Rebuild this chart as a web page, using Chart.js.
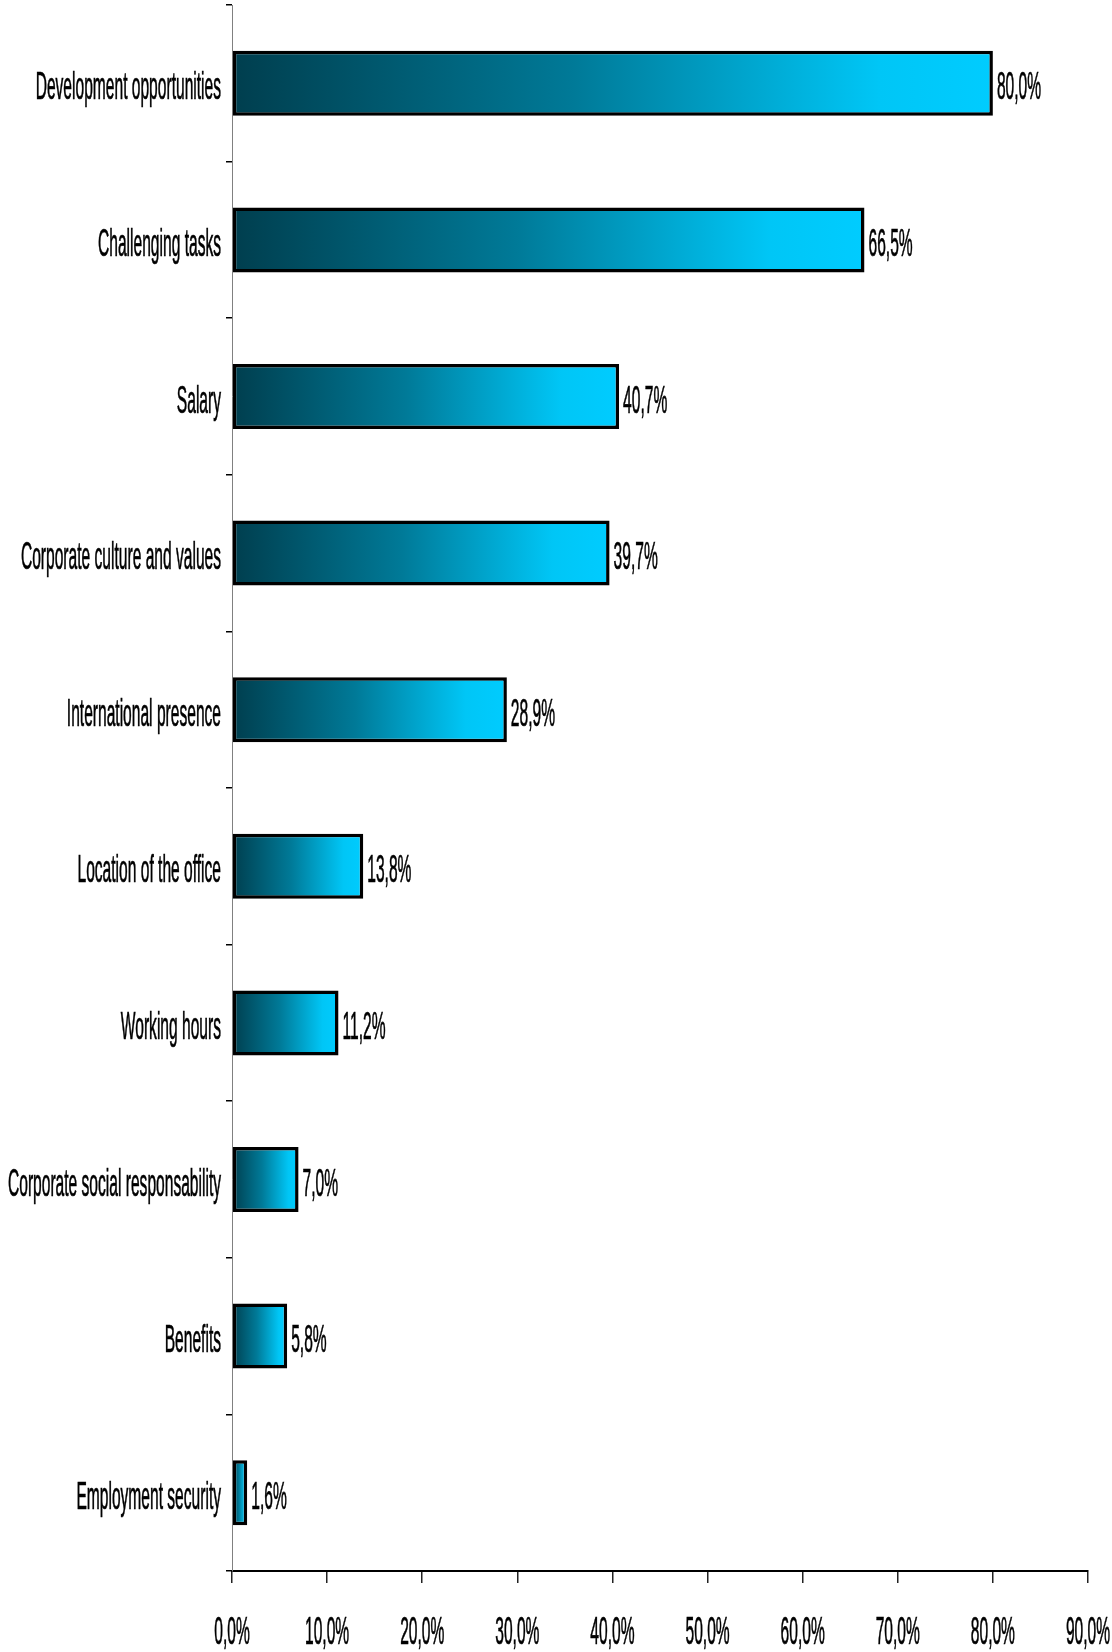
<!DOCTYPE html>
<html>
<head>
<meta charset="utf-8">
<script src="https://cdn.jsdelivr.net/npm/chart.js@4/dist/chart.umd.min.js"></script>
<style>
  html, body { margin: 0; padding: 0; background: #fff; }
  #wrap { width: 1112px; height: 1652px; }
</style>
</head>
<body>
<div id="wrap"><canvas id="myChart" width="1112" height="1652"></canvas></div>
<script>
// data
var categories = [
    'Development opportunities',
    'Challenging tasks',
    'Salary',
    'Corporate culture and values',
    'International presence',
    'Location of the office',
    'Working hours',
    'Corporate social responsability',
    'Benefits',
    'Employment security'
];
var values = [80.0, 66.5, 40.7, 39.7, 28.9, 13.8, 11.2, 7.0, 5.8, 1.6];
var xMin = 0, xMax = 90, xStep = 10;

var FONT = '38px "Liberation Sans", Arial, sans-serif';
var SQUEEZE = 0.41;

function pct(v) {
    return v.toFixed(1).replace('.', ',') + '%';
}

// text in the picture is very condensed, so draw it squeezed horizontally
function squeezedText(ctx, text, x, y, align) {
    ctx.save();
    ctx.translate(x, y);
    ctx.scale(SQUEEZE, 1);
    ctx.textAlign = align;
    ctx.fillText(text, 0, 0);
    ctx.strokeText(text, 0, 0);
    ctx.restore();
}

var labelPlugin = {
    id: 'squeezedLabels',
    afterDraw: function (chart) {
        var ctx = chart.ctx;
        var xs = chart.scales.x, ys = chart.scales.y;
        ctx.save();
        ctx.font = FONT;
        ctx.fillStyle = '#000';
        ctx.strokeStyle = '#000';
        ctx.lineWidth = 0.7;
        ctx.textBaseline = 'alphabetic';

        // category labels
        categories.forEach(function (c, i) {
            var y = ys.getPixelForValue(i);
            squeezedText(ctx, c, ys.right - 11, y + 16, 'right');
        });

        // value labels at bar ends
        values.forEach(function (v, i) {
            var y = ys.getPixelForValue(i);
            squeezedText(ctx, pct(v), xs.getPixelForValue(v) + 4, y + 16, 'left');
        });

        // x tick labels
        xs.ticks.forEach(function (t) {
            squeezedText(ctx, pct(t.value), xs.getPixelForValue(t.value), xs.top + 73, 'center');
        });
        ctx.restore();
    }
};

new Chart('myChart', {
    type: 'bar',
    data: {
        labels: categories,
        datasets: [{
            data: values,
            backgroundColor: function (context) {
                var chart = context.chart;
                if (!chart.chartArea) return '#0088aa';
                var xs = chart.scales.x;
                var x0 = xs.getPixelForValue(0);
                var x1 = xs.getPixelForValue(context.raw);
                var g = chart.ctx.createLinearGradient(x0, 0, x1, 0);
                g.addColorStop(0, '#003e4e');
                g.addColorStop(0.45, '#007a98');
                g.addColorStop(0.85, '#00c6f6');
                g.addColorStop(1, '#00ccff');
                return g;
            },
            borderColor: '#000',
            borderWidth: 3.5,
            borderSkipped: false,
            categoryPercentage: 1,
            barPercentage: 0.415
        }]
    },
    options: {
        indexAxis: 'y',
        responsive: false,
        animation: false,
        devicePixelRatio: 1,
        layout: { padding: { top: 5, right: 24, left: 0, bottom: 0 } },
        plugins: {
            legend: { display: false },
            tooltip: { enabled: false }
        },
        scales: {
            x: {
                min: xMin,
                max: xMax,
                ticks: { stepSize: xStep, display: false },
                grid: {
                    drawOnChartArea: false,
                    drawTicks: true,
                    tickLength: 12,
                    color: '#222',
                    lineWidth: 1.5
                },
                border: { color: '#000', width: 2 },
                afterFit: function (s) { s.height = 81; }
            },
            y: {
                ticks: { display: false },
                grid: {
                    drawOnChartArea: false,
                    drawTicks: true,
                    tickLength: 6,
                    offset: true,
                    color: '#000',
                    lineWidth: 1.5
                },
                border: { color: '#808080', width: 1 },
                afterFit: function (s) { s.width = 232; }
            }
        }
    },
    plugins: [labelPlugin]
});
</script>
</body>
</html>
